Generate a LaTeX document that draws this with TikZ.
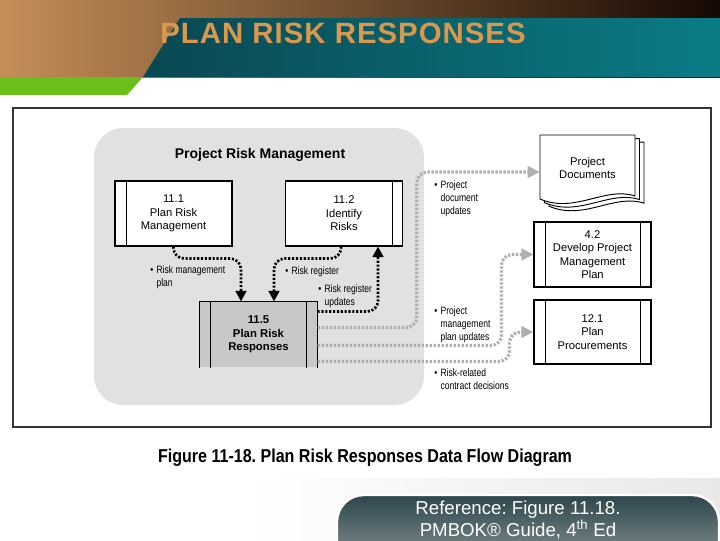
\documentclass[tikz,border=0pt]{standalone}
\usepackage{fontspec}
\setmainfont{Liberation Sans}
\newfontfamily\narrowfont[FakeStretch=0.8]{Liberation Sans}
\newfontfamily\captionfont[FakeStretch=0.86]{Liberation Sans}
\newfontfamily\bannerfont[LetterSpace=3.5]{Liberation Sans}
\usetikzlibrary{positioning}
\usetikzlibrary{calc}
\usetikzlibrary{arrows.meta}

\definecolor{hdrtan}{RGB}{196,142,88}
\definecolor{hdrbrown}{RGB}{140,72,22}
\definecolor{hdrdark}{RGB}{22,8,3}
\definecolor{hdrteal}{RGB}{10,124,134}
\definecolor{hdrtealdk}{RGB}{10,72,82}
\definecolor{hdrgreen}{RGB}{108,190,25}
\definecolor{hdrgold}{RGB}{218,152,78}
\definecolor{panelgray}{RGB}{225,225,225}
\definecolor{procgray}{RGB}{200,200,200}
\definecolor{flowgray}{RGB}{175,175,175}
\definecolor{pilldark}{RGB}{45,70,76}
\definecolor{pilllight}{RGB}{150,160,160}

% bullet list used for the flow labels
\newcommand{\flowitem}[1]{\begin{tabular}[t]{@{}l@{\hspace{2.5pt}}l@{}}#1\end{tabular}}

\begin{document}
\frenchspacing
\begin{tikzpicture}[x=0.75pt, y=-0.75pt,
  procbox/.style={draw, fill=white, line width=0.8pt, minimum width=87.75pt,
    minimum height=48.75pt, inner sep=0pt, align=center,
    font=\fontsize{8.4}{10.1}\selectfont},
  blkflow/.style={draw=black, line width=2pt, dash pattern=on 1.6pt off 1.3pt,
    rounded corners=8pt, -{Triangle[width=8pt,length=8pt]}},
  grayflow/.style={draw=flowgray, line width=2.4pt, dash pattern=on 1.8pt off 1.2pt,
    rounded corners=8pt, -{Triangle[width=8.5pt,length=9pt]}},
  flowlbl/.style={anchor=base west, inner sep=0pt,
    font=\narrowfont\fontsize{8}{9.75}\selectfont}]
  \useasboundingbox (0,0) rectangle (720,540);

  % header strip with the teal title band and the green tab
  \shade[left color=hdrtan, middle color=hdrbrown, right color=hdrdark]
    (0,0) rectangle (720,77);
  \shade[left color=hdrtealdk, right color=hdrteal]
    (180,18) -- (720,18) -- (720,77) -- (143,77) -- cycle;
  \fill[hdrgreen] (0,77) -- (143,77) -- (127,95) -- (0,95) -- cycle;
  \node[font=\bannerfont\bfseries\fontsize{22}{24}\selectfont, text=hdrgold]
    (banner) at (343,33) {PLAN RISK RESPONSES};

  % figure frame and the grey process group
  \draw[line width=1.2pt, draw=black!80] (13,108) rectangle (711,427);
  \fill[panelgray, rounded corners=22pt] (94,128) rectangle (424,405);
  \node[font=\bfseries\fontsize{10.5}{12}\selectfont] (prm) at (260,155)
    {Project Risk Management};

  % stack of documents
  \foreach \d in {9,4.5,0}
    \filldraw[fill=white, line width=0.7pt, shift={(\d,\d*0.8)}]
      (540,135) -- (635,135) -- (635,196)
      .. controls (605,186) and (575,214) .. (540,199) -- cycle;
  \node[minimum width=71.25pt, minimum height=46.5pt, inner sep=0pt, align=center,
    font=\fontsize{8.4}{10.1}\selectfont] (docs) at (587.5,168) {Project\\Documents};

  % processes
  \node[procbox] (pr111) at (173.5,213.5) {11.1\\Plan Risk\\Management};
  \node[procbox] (pr112) at (344,213.5) {11.2\\Identify\\Risks};
  \node[procbox, fill=procgray, draw=none,
    font=\bfseries\fontsize{8.5}{10.1}\selectfont] (pr115) at (258.5,334.5)
    {11.5\\Plan Risk\\Responses};
  \node[procbox] (pr42) at (592.5,254.5) {4.2\\Develop Project\\Management\\Plan};
  \node[procbox, minimum height=48pt] (pr121) at (592.5,332) {12.1\\Plan\\Procurements};

  % open-bottom outline of 11.5
  \draw[line width=0.8pt] (pr115.south west) -- (pr115.north west)
    -- (pr115.north east) -- (pr115.south east);
  % side bands
  \foreach \n/\s in {pr111/12, pr42/12, pr121/12, pr115/11}
    \draw[line width=0.8pt] ($(\n.north west)+(\s,0)$) -- ($(\n.south west)+(\s,0)$);
  \foreach \n/\s in {pr112/11, pr42/11, pr121/11, pr115/11}
    \draw[line width=0.8pt] ($(\n.north east)+(-\s,0)$) -- ($(\n.south east)+(-\s,0)$);

  % flows inside the group
  \draw[blkflow] (pr111.south) -- ++(0,12) -| ($(pr115.north)+(-17.5,0)$);
  \draw[blkflow] ($(pr112.south)+(-3,0)$) -- ++(0,12) -| ($(pr115.north)+(15.5,0)$);
  \draw[blkflow] ($(pr115.north east)+(0,10)$) -| ($(pr112.south)+(34,0)$);

  % flows out of the group
  \coordinate (d1) at ($(docs.west)+(-123,4)$);
  \draw[grayflow] ($(pr115.north east)+(0,26)$) -| (d1) -- (d1 -| docs.west);
  \draw[grayflow] ($(pr115.north east)+(0,44)$) -| ($(pr42.west)+(-32,0)$) -- (pr42.west);
  \draw[grayflow] ($(pr115.north east)+(0,60)$) -| ($(pr121.west)+(-24,0)$) -- (pr121.west);

  % flow labels
  \node[flowlbl] (lbrmp) at (150,273) {\flowitem{\textbullet & Risk management\\ & plan}};
  \node[flowlbl] (lbrr) at (285,274) {\flowitem{\textbullet & Risk register}};
  \node[flowlbl] (lbrru) at (318,292) {\flowitem{\textbullet & Risk register\\ & updates}};
  \node[flowlbl] (lbpdu) at (434,188) {\flowitem{\textbullet & Project\\ & document\\ & updates}};
  \node[flowlbl] (lbpmp) at (434,314) {\flowitem{\textbullet & Project\\ & management\\ & plan updates}};
  \node[flowlbl] (lbrcd) at (434,376) {\flowitem{\textbullet & Risk-related\\ & contract decisions}};

  % caption
  \node[font=\captionfont\bfseries\fontsize{14}{16}\selectfont] (figcap) at (365,458)
    {Figure 11-18. Plan Risk Responses Data Flow Diagram};

  % reference badge
  \shade[left color=white, right color=gray!18] (250,478) rectangle (720,540);
  \shade[top color=pilldark, bottom color=pilllight, draw=white, line width=1.8pt,
    rounded corners=20pt] (337,495) rectangle (719,575);
  \node[text=white, align=center, font=\fontsize{14}{14.5}\selectfont] (refnote) at (518,520)
    {Reference: Figure 11.18.\\PMBOK® Guide, 4\textsuperscript{th} Ed};
\end{tikzpicture}
\end{document}
